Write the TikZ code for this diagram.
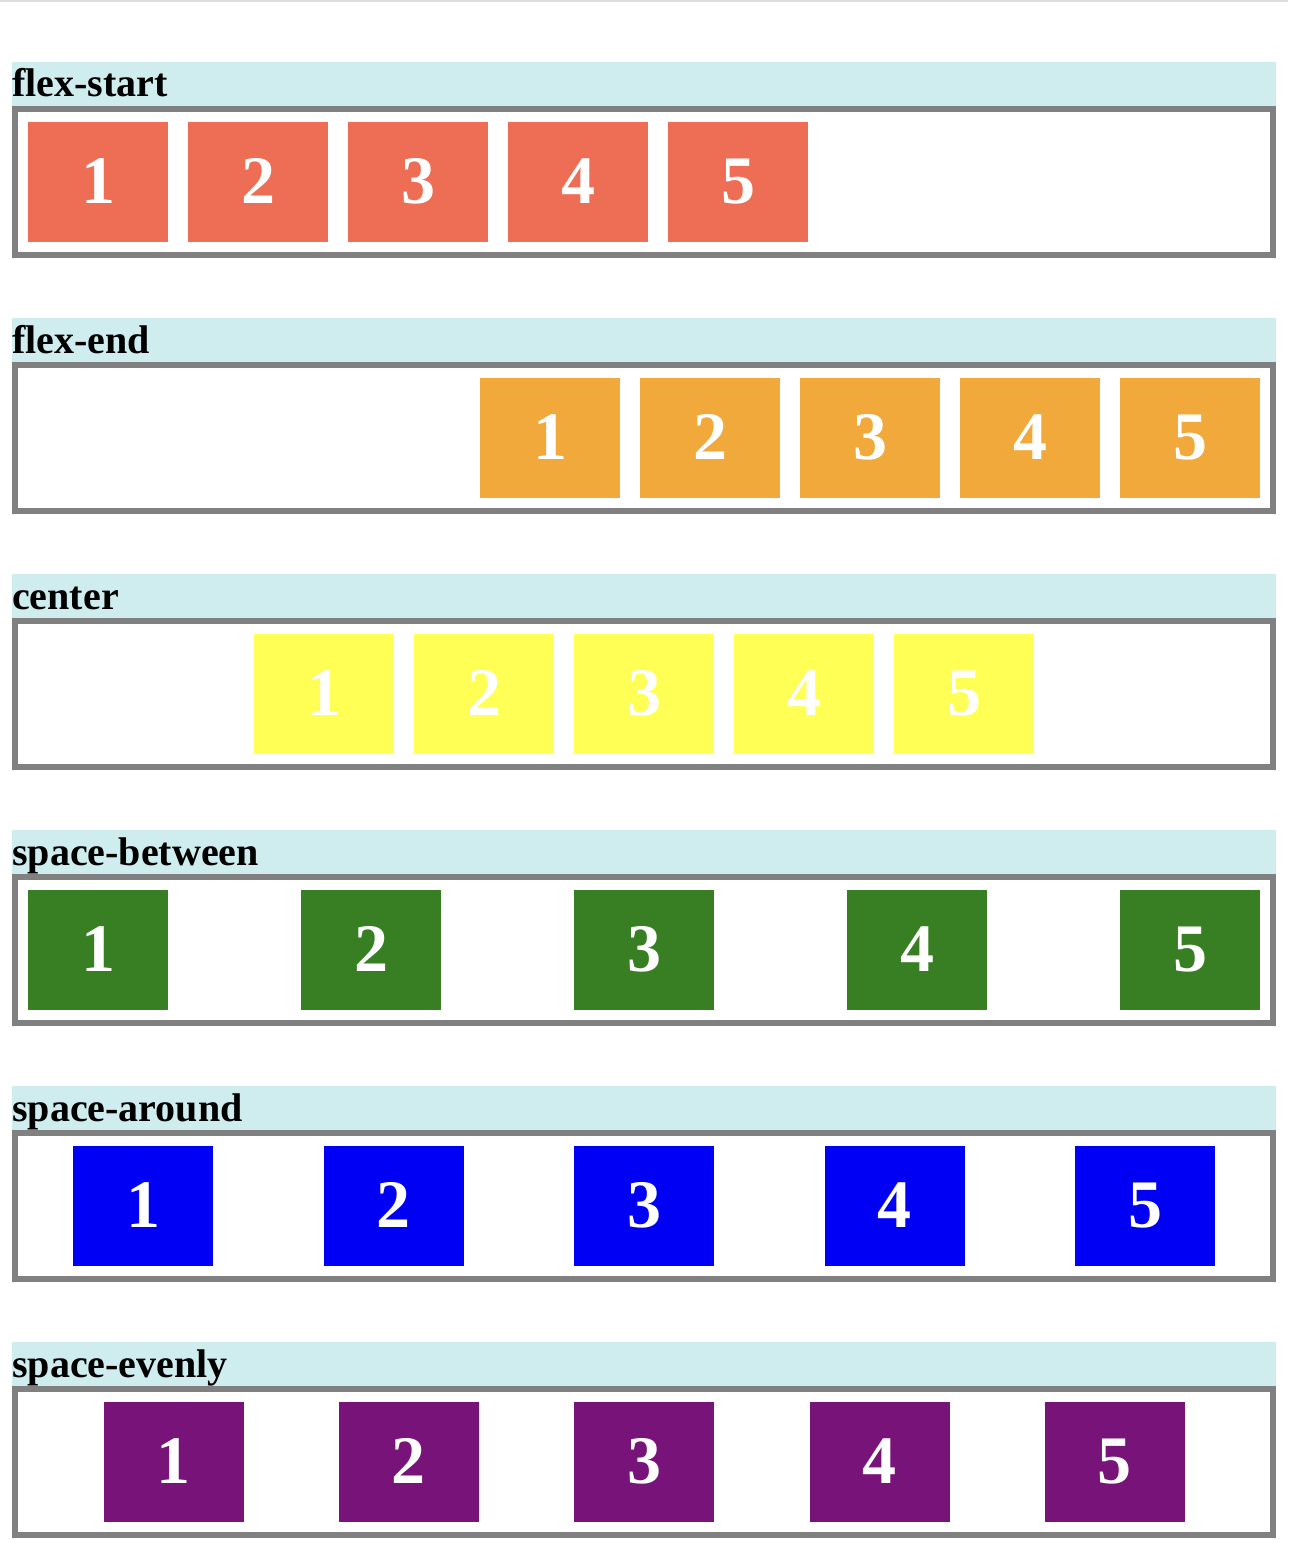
\documentclass[tikz,border=0pt]{standalone}
\usepackage{fontspec}
\setmainfont{Liberation Serif}
\definecolor{cA}{HTML}{EE6E55}
\definecolor{cB}{HTML}{F1A93C}
\definecolor{cC}{HTML}{FFFF55}
\definecolor{cD}{HTML}{387F23}
\definecolor{cE}{HTML}{0000F5}
\definecolor{cF}{HTML}{781479}
\definecolor{bandc}{HTML}{CFEDEE}
\definecolor{borderc}{HTML}{808080}
\definecolor{topline}{HTML}{DDDDDD}
\tikzset{
  item/.style={anchor=north west, minimum width=140pt, minimum height=120pt, inner sep=0pt,
    text=white, font=\fontsize{68}{70}\selectfont\bfseries, text height=46pt, text depth=4pt},
  lbl/.style={anchor=base west, inner sep=0pt, font=\fontsize{40}{46}\selectfont\bfseries},
  band/.style={fill=bandc},
  frame/.style={draw=borderc, line width=6pt}
}
\begin{document}
\begin{tikzpicture}[x=1pt,y=-1pt]
\useasboundingbox (0,0) rectangle (1288,1568);
\fill[topline] (0,0) rectangle (1288,2);
\foreach \lab/\col/\xs [count=\k from 0] in {
  flex-start/cA/{28,188,348,508,668},
  flex-end/cB/{480,640,800,960,1120},
  center/cC/{254,414,574,734,894},
  space-between/cD/{28,301,574,847,1120},
  space-around/cE/{73.2,323.6,574,824.4,1074.8},
  space-evenly/cF/{103.3,338.7,574,809.3,1044.7}}{
  \pgfmathsetmacro\T{62+256*\k}
  \fill[band] (12,\T) rectangle (1276,\T+44);
  \node[lbl] (label\k) at (12,\T+35) {\lab};
  \draw[frame] (15,\T+47) rectangle (1273,\T+193);
  \foreach \x [count=\i] in \xs {
    \node[item, fill=\col] (b\k-\i) at (\x,\T+60) {\i};
  }
}
\end{tikzpicture}
\end{document}
